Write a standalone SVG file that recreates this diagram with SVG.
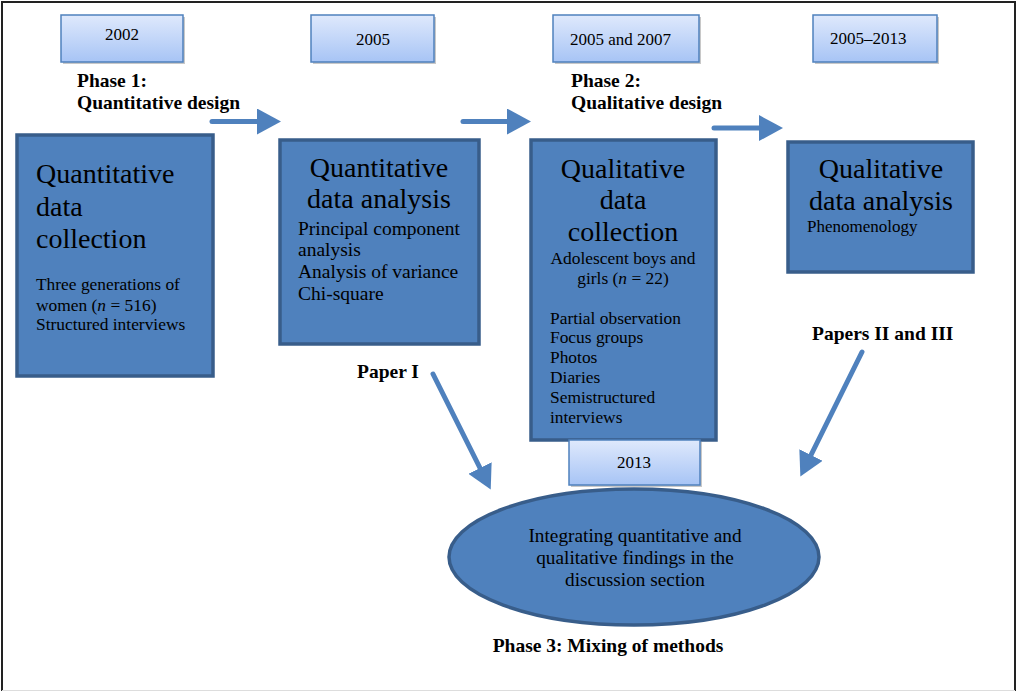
<svg xmlns="http://www.w3.org/2000/svg" width="1016" height="692" viewBox="0 0 1016 692">
<style>
text{font-family:'Liberation Serif',Tinos,'Times New Roman',Times,'DejaVu Serif',serif;fill:#000}
.date{font-size:17px}
.big{font-size:28px}
.mid{font-size:19.5px}
.sm{font-size:17.4px}
.bold{font-size:19.5px;font-weight:bold}
.box{fill:#4f81bd;stroke:#385d8a;stroke-width:3.5}
.dbox{fill:url(#dgrad);stroke:#4f81bd;stroke-width:1.5}
.shadow{fill:#c8c8c8}
.conn{stroke:#4f81bd;stroke-width:5;fill:none;stroke-linecap:round;marker-end:url(#ah)}
</style>
<defs>
<linearGradient id="dgrad" x1="0" y1="0" x2="0" y2="1">
<stop offset="0" stop-color="#dfe9fc"/>
<stop offset="1" stop-color="#a7c4f5"/>
</linearGradient>
<marker id="ah" markerUnits="userSpaceOnUse" markerWidth="24" markerHeight="26" viewBox="0 0 24 26" refX="0" refY="13" orient="auto">
<path d="M0,0 L24,13 L0,26 Z" fill="#4f81bd"/>
</marker>
</defs>
<rect x="0" y="0" width="1016" height="692" fill="#fff"/>
<path d="M2,691 V2 H1015 V691" fill="none" stroke="#222" stroke-width="2"/>
<line x1="2" y1="690.5" x2="1015" y2="690.5" stroke="#ddd" stroke-width="1"/>

<g id="date-2002">
<rect class="shadow" x="63" y="17" width="122" height="47"/>
<rect class="dbox" x="61" y="15" width="122" height="47"/>
<text class="date" x="122" y="40" text-anchor="middle">2002</text>
</g>
<g id="date-2005">
<rect class="shadow" x="313" y="17" width="123" height="47"/>
<rect class="dbox" x="311" y="15" width="123" height="47"/>
<text class="date" x="373" y="45" text-anchor="middle">2005</text>
</g>
<g id="date-2005-2007">
<rect class="shadow" x="555" y="17" width="146" height="47"/>
<rect class="dbox" x="553" y="15" width="146" height="47"/>
<text class="date" x="570" y="45">2005 and 2007</text>
</g>
<g id="date-2005-2013">
<rect class="shadow" x="815" y="17" width="124" height="47"/>
<rect class="dbox" x="813" y="15" width="124" height="47"/>
<text class="date" x="830" y="44">2005–2013</text>
</g>

<g id="phase1-label">
<text class="bold" x="77" y="87">Phase 1:</text>
<text class="bold" x="77" y="109">Quantitative design</text>
</g>
<g id="phase2-label">
<text class="bold" x="571" y="87">Phase 2:</text>
<text class="bold" x="571" y="109">Qualitative design</text>
</g>

<g id="quant-collection">
<rect class="box" x="17" y="135" width="196" height="241"/>
<text class="big" x="36" y="183">Quantitative</text>
<text class="big" x="36" y="216">data</text>
<text class="big" x="36" y="248">collection</text>
<text class="sm" x="36" y="290">Three generations of</text>
<text class="sm" x="36" y="311">women (<tspan font-style="italic">n</tspan> = 516)</text>
<text class="sm" x="36" y="330">Structured interviews</text>
</g>

<g id="quant-analysis">
<rect class="box" x="280" y="140" width="199" height="204"/>
<text class="big" x="379" y="177" text-anchor="middle">Quantitative</text>
<text class="big" x="379" y="208" text-anchor="middle">data analysis</text>
<text class="mid" x="298" y="235">Principal component</text>
<text class="mid" x="298" y="256">analysis</text>
<text class="mid" x="298" y="278">Analysis of variance</text>
<text class="mid" x="298" y="300">Chi-square</text>
</g>

<g id="qual-collection">
<rect class="box" x="531" y="140" width="185" height="300"/>
<text class="big" x="623" y="178" text-anchor="middle">Qualitative</text>
<text class="big" x="623" y="209" text-anchor="middle">data</text>
<text class="big" x="623" y="241" text-anchor="middle">collection</text>
<text class="sm" x="623" y="264" text-anchor="middle">Adolescent boys and</text>
<text class="sm" x="623" y="284" text-anchor="middle">girls (<tspan font-style="italic">n</tspan> = 22)</text>
<text class="sm" x="550" y="324">Partial observation</text>
<text class="sm" x="550" y="343">Focus groups</text>
<text class="sm" x="550" y="363">Photos</text>
<text class="sm" x="550" y="383">Diaries</text>
<text class="sm" x="550" y="403">Semistructured</text>
<text class="sm" x="550" y="423">interviews</text>
</g>

<g id="qual-analysis">
<rect class="box" x="788" y="142" width="185" height="130"/>
<text class="big" x="881" y="178" text-anchor="middle">Qualitative</text>
<text class="big" x="881" y="210" text-anchor="middle">data analysis</text>
<text class="date" x="807" y="232">Phenomenology</text>
</g>

<g id="date-2013">
<rect class="shadow" x="571" y="442" width="131" height="45"/>
<rect class="dbox" x="569" y="440" width="131" height="45"/>
<text class="date" x="634" y="468" text-anchor="middle">2013</text>
</g>

<g id="paper1-label">
<text class="bold" x="357" y="378">Paper I</text>
</g>
<g id="papers23-label">
<text class="bold" x="812" y="340">Papers II and III</text>
</g>

<g id="integration">
<ellipse cx="634" cy="557" rx="185" ry="68" fill="#4f81bd" stroke="#385d8a" stroke-width="3.5"/>
<text font-size="19.3" x="635" y="542" text-anchor="middle">Integrating quantitative and</text>
<text font-size="19.3" x="635" y="564" text-anchor="middle">qualitative findings in the</text>
<text font-size="19.3" x="635" y="586" text-anchor="middle">discussion section</text>
</g>

<g id="phase3-label">
<text class="bold" x="608" y="652" text-anchor="middle">Phase 3: Mixing of methods</text>
</g>

<g id="connectors">
<line class="conn" x1="212" y1="121.5" x2="257" y2="121.5"/>
<line class="conn" x1="463" y1="121.5" x2="507" y2="121.5"/>
<line class="conn" x1="714" y1="128" x2="759" y2="128"/>
<line class="conn" x1="433" y1="374" x2="480" y2="468"/>
<line class="conn" x1="862" y1="352" x2="811" y2="455"/>
</g>
</svg>
